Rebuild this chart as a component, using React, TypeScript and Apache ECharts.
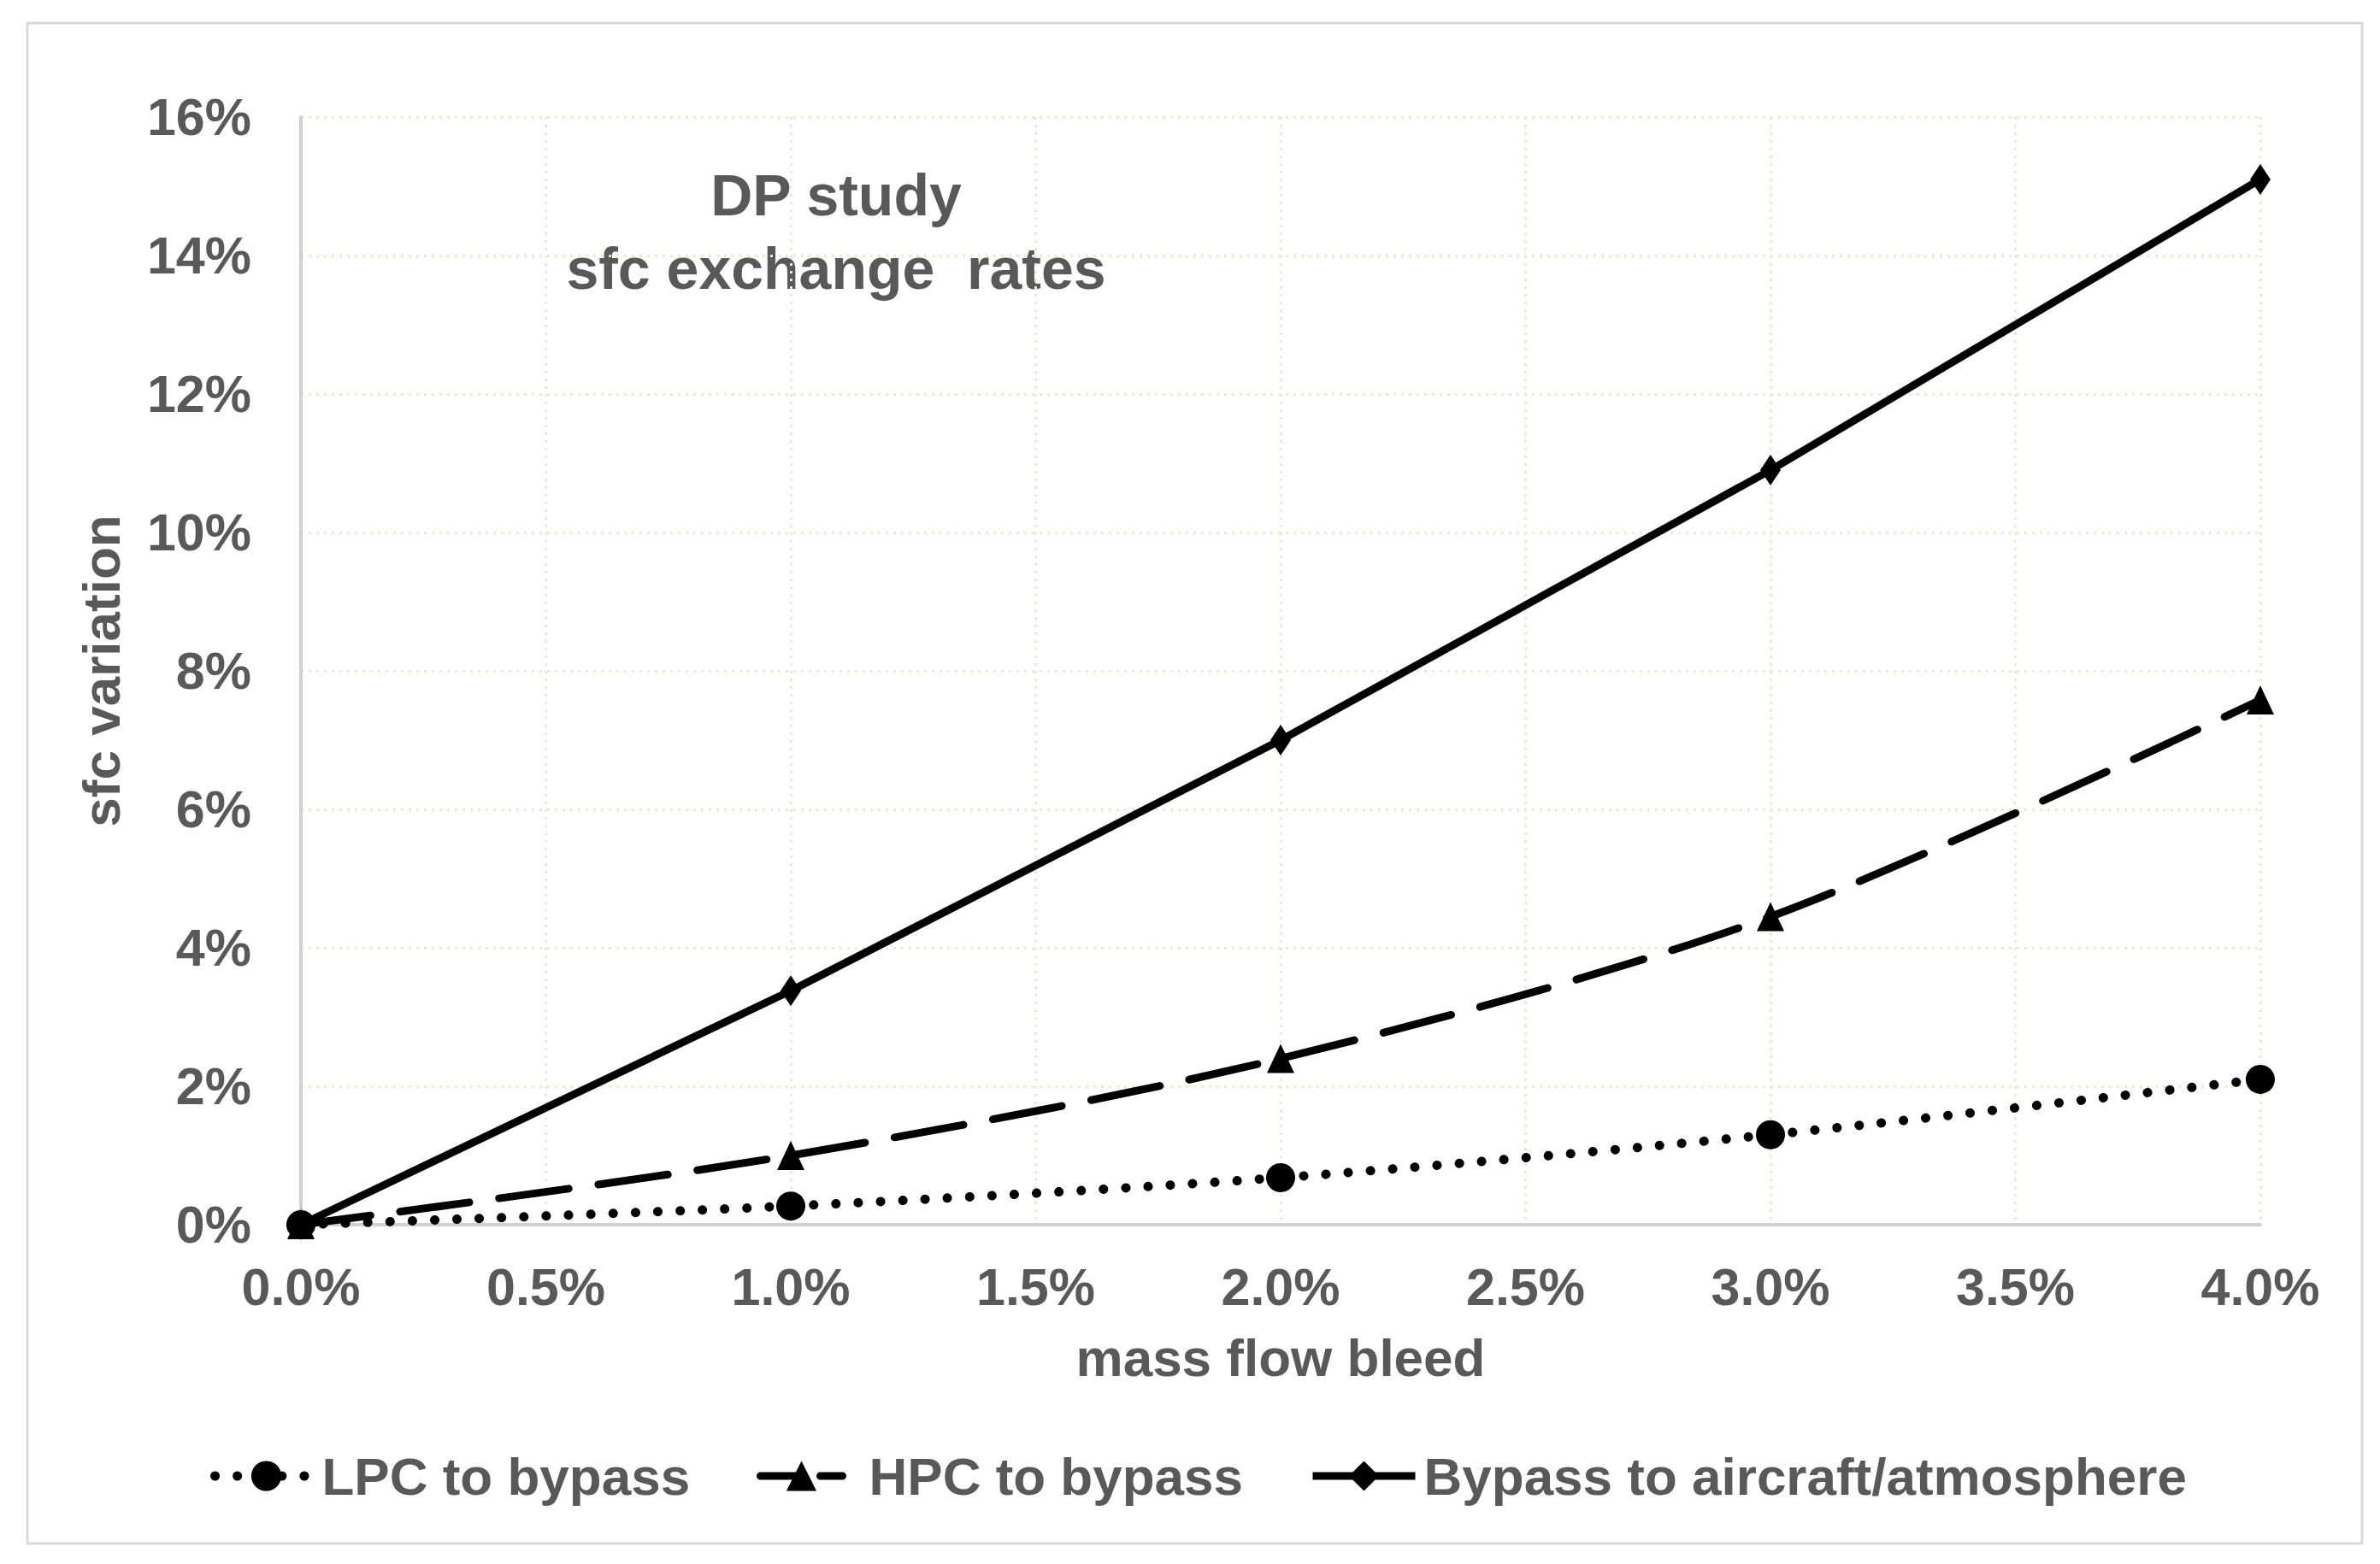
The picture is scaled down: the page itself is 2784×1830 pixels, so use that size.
import React, { useEffect, useRef } from "react";
import * as echarts from "echarts";

const xValues = [0, 1, 2, 3, 4];
const lpcValues = [0, 0.27, 0.68, 1.3, 2.1];
const hpcValues = [0, 1.0, 2.4, 4.45, 7.58];
const bypassValues = [0, 3.38, 7.0, 10.9, 15.1];
const seriesNames = ["LPC to bypass", "HPC to bypass", "Bypass to aircraft/atmosphere"];
const titleLines = ["DP study", "sfc exchange  rates"];
const xAxisName = "mass flow bleed";
const yAxisName = "sfc variation";

const FONT = "'Liberation Sans', Arial, sans-serif";
const TEXT = "#595959";

const LPC_LINE = { color: "#000", width: 11, type: [0.1, 26] as any, cap: "round" as const };
const HPC_LINE = { color: "#000", width: 9, type: [82, 35] as any, cap: "round" as const };
const BYP_LINE = { color: "#000", width: 9, type: "solid" as const };

export default function App() {
  const ref = useRef<HTMLDivElement>(null);
  useEffect(() => {
    document.body.style.margin = "0";
    const chart = echarts.init(ref.current!, null, { renderer: "svg" });
    const pair = (ys: number[]) => xValues.map((x, i) => [x, ys[i]]);
    const legendText = (pad: number) => ({
      color: TEXT,
      fontSize: 62,
      fontWeight: "bold",
      fontFamily: FONT,
      padding: [0, 0, 0, pad],
    });
    chart.setOption({
      animation: false,
      backgroundColor: "#ffffff",
      textStyle: { fontFamily: FONT },
      grid: { left: 352, right: 140, top: 137, bottom: 397, containLabel: false },
      graphic: [
        {
          type: "rect",
          shape: { x: 32, y: 27, width: 2731, height: 1779 },
          style: { fill: "none", stroke: "#d9d9d9", lineWidth: 3 },
          silent: true,
        },
        {
          type: "text",
          x: 978,
          y: 228,
          style: {
            text: titleLines[0],
            align: "center",
            verticalAlign: "middle",
            fill: TEXT,
            font: `bold 68px ${FONT}`,
          },
        },
        {
          type: "text",
          x: 978,
          y: 314,
          style: {
            text: titleLines[1],
            align: "center",
            verticalAlign: "middle",
            fill: TEXT,
            font: `bold 68px ${FONT}`,
          },
        },
      ],
      xAxis: {
        type: "value",
        min: 0,
        max: 4,
        interval: 0.5,
        name: xAxisName,
        nameLocation: "middle",
        nameGap: 124,
        nameTextStyle: { color: TEXT, fontSize: 62, fontWeight: "bold", fontFamily: FONT },
        axisLine: { show: true, lineStyle: { color: "#d0d0d0", width: 4 } },
        axisTick: { show: false },
        axisLabel: {
          color: TEXT,
          fontSize: 61,
          fontWeight: "bold",
          fontFamily: FONT,
          margin: 42,
          formatter: (v: number) => v.toFixed(1) + "%",
        },
        splitLine: { show: true, lineStyle: { color: "#ebe8d6", width: 3, type: [3, 6] } },
      },
      yAxis: {
        type: "value",
        min: 0,
        max: 16,
        interval: 2,
        name: yAxisName,
        nameLocation: "middle",
        nameGap: 203,
        nameTextStyle: { color: TEXT, fontSize: 62, fontWeight: "bold", fontFamily: FONT },
        axisLine: { show: true, lineStyle: { color: "#d0d0d0", width: 4 } },
        axisTick: { show: false },
        axisLabel: {
          color: TEXT,
          fontSize: 61,
          fontWeight: "bold",
          fontFamily: FONT,
          margin: 58,
          formatter: (v: number) => v + "%",
        },
        splitLine: { show: true, lineStyle: { color: "#ebe8d6", width: 3, type: [3, 6] } },
      },
      legend: [
        {
          left: 246,
          top: 1696,
          padding: 0,
          itemWidth: 120,
          itemHeight: 44,
          textStyle: legendText(0),
          data: [{ name: seriesNames[0], lineStyle: LPC_LINE, itemStyle: { color: "#000" } }],
        },
        {
          left: 885,
          top: 1696,
          padding: 0,
          itemWidth: 96,
          itemHeight: 44,
          textStyle: legendText(26),
          data: [{ name: seriesNames[1], lineStyle: { ...HPC_LINE, type: [50, 20] }, itemStyle: { color: "#000" } }],
        },
        {
          left: 1531,
          top: 1696,
          padding: 0,
          itemWidth: 120,
          itemHeight: 44,
          textStyle: legendText(5),
          data: [{ name: seriesNames[2], lineStyle: BYP_LINE, itemStyle: { color: "#000" } }],
        },
      ],
      series: [
        {
          name: seriesNames[0],
          type: "line",
          data: pair(lpcValues),
          smooth: 0.3,
          symbol: "circle",
          symbolSize: 34,
          itemStyle: { color: "#000" },
          lineStyle: LPC_LINE,
          z: 3,
        },
        {
          name: seriesNames[1],
          type: "line",
          data: pair(hpcValues),
          smooth: 0.3,
          symbol: "triangle",
          symbolSize: [32, 34],
          itemStyle: { color: "#000" },
          lineStyle: HPC_LINE,
          z: 4,
        },
        {
          name: seriesNames[2],
          type: "line",
          data: pair(bypassValues),
          smooth: false,
          symbol: "diamond",
          symbolSize: [24, 36],
          itemStyle: { color: "#000" },
          lineStyle: BYP_LINE,
          z: 5,
        },
      ],
    });
    return () => chart.dispose();
  }, []);
  return <div ref={ref} style={{ width: 2784, height: 1830 }} />;
}
